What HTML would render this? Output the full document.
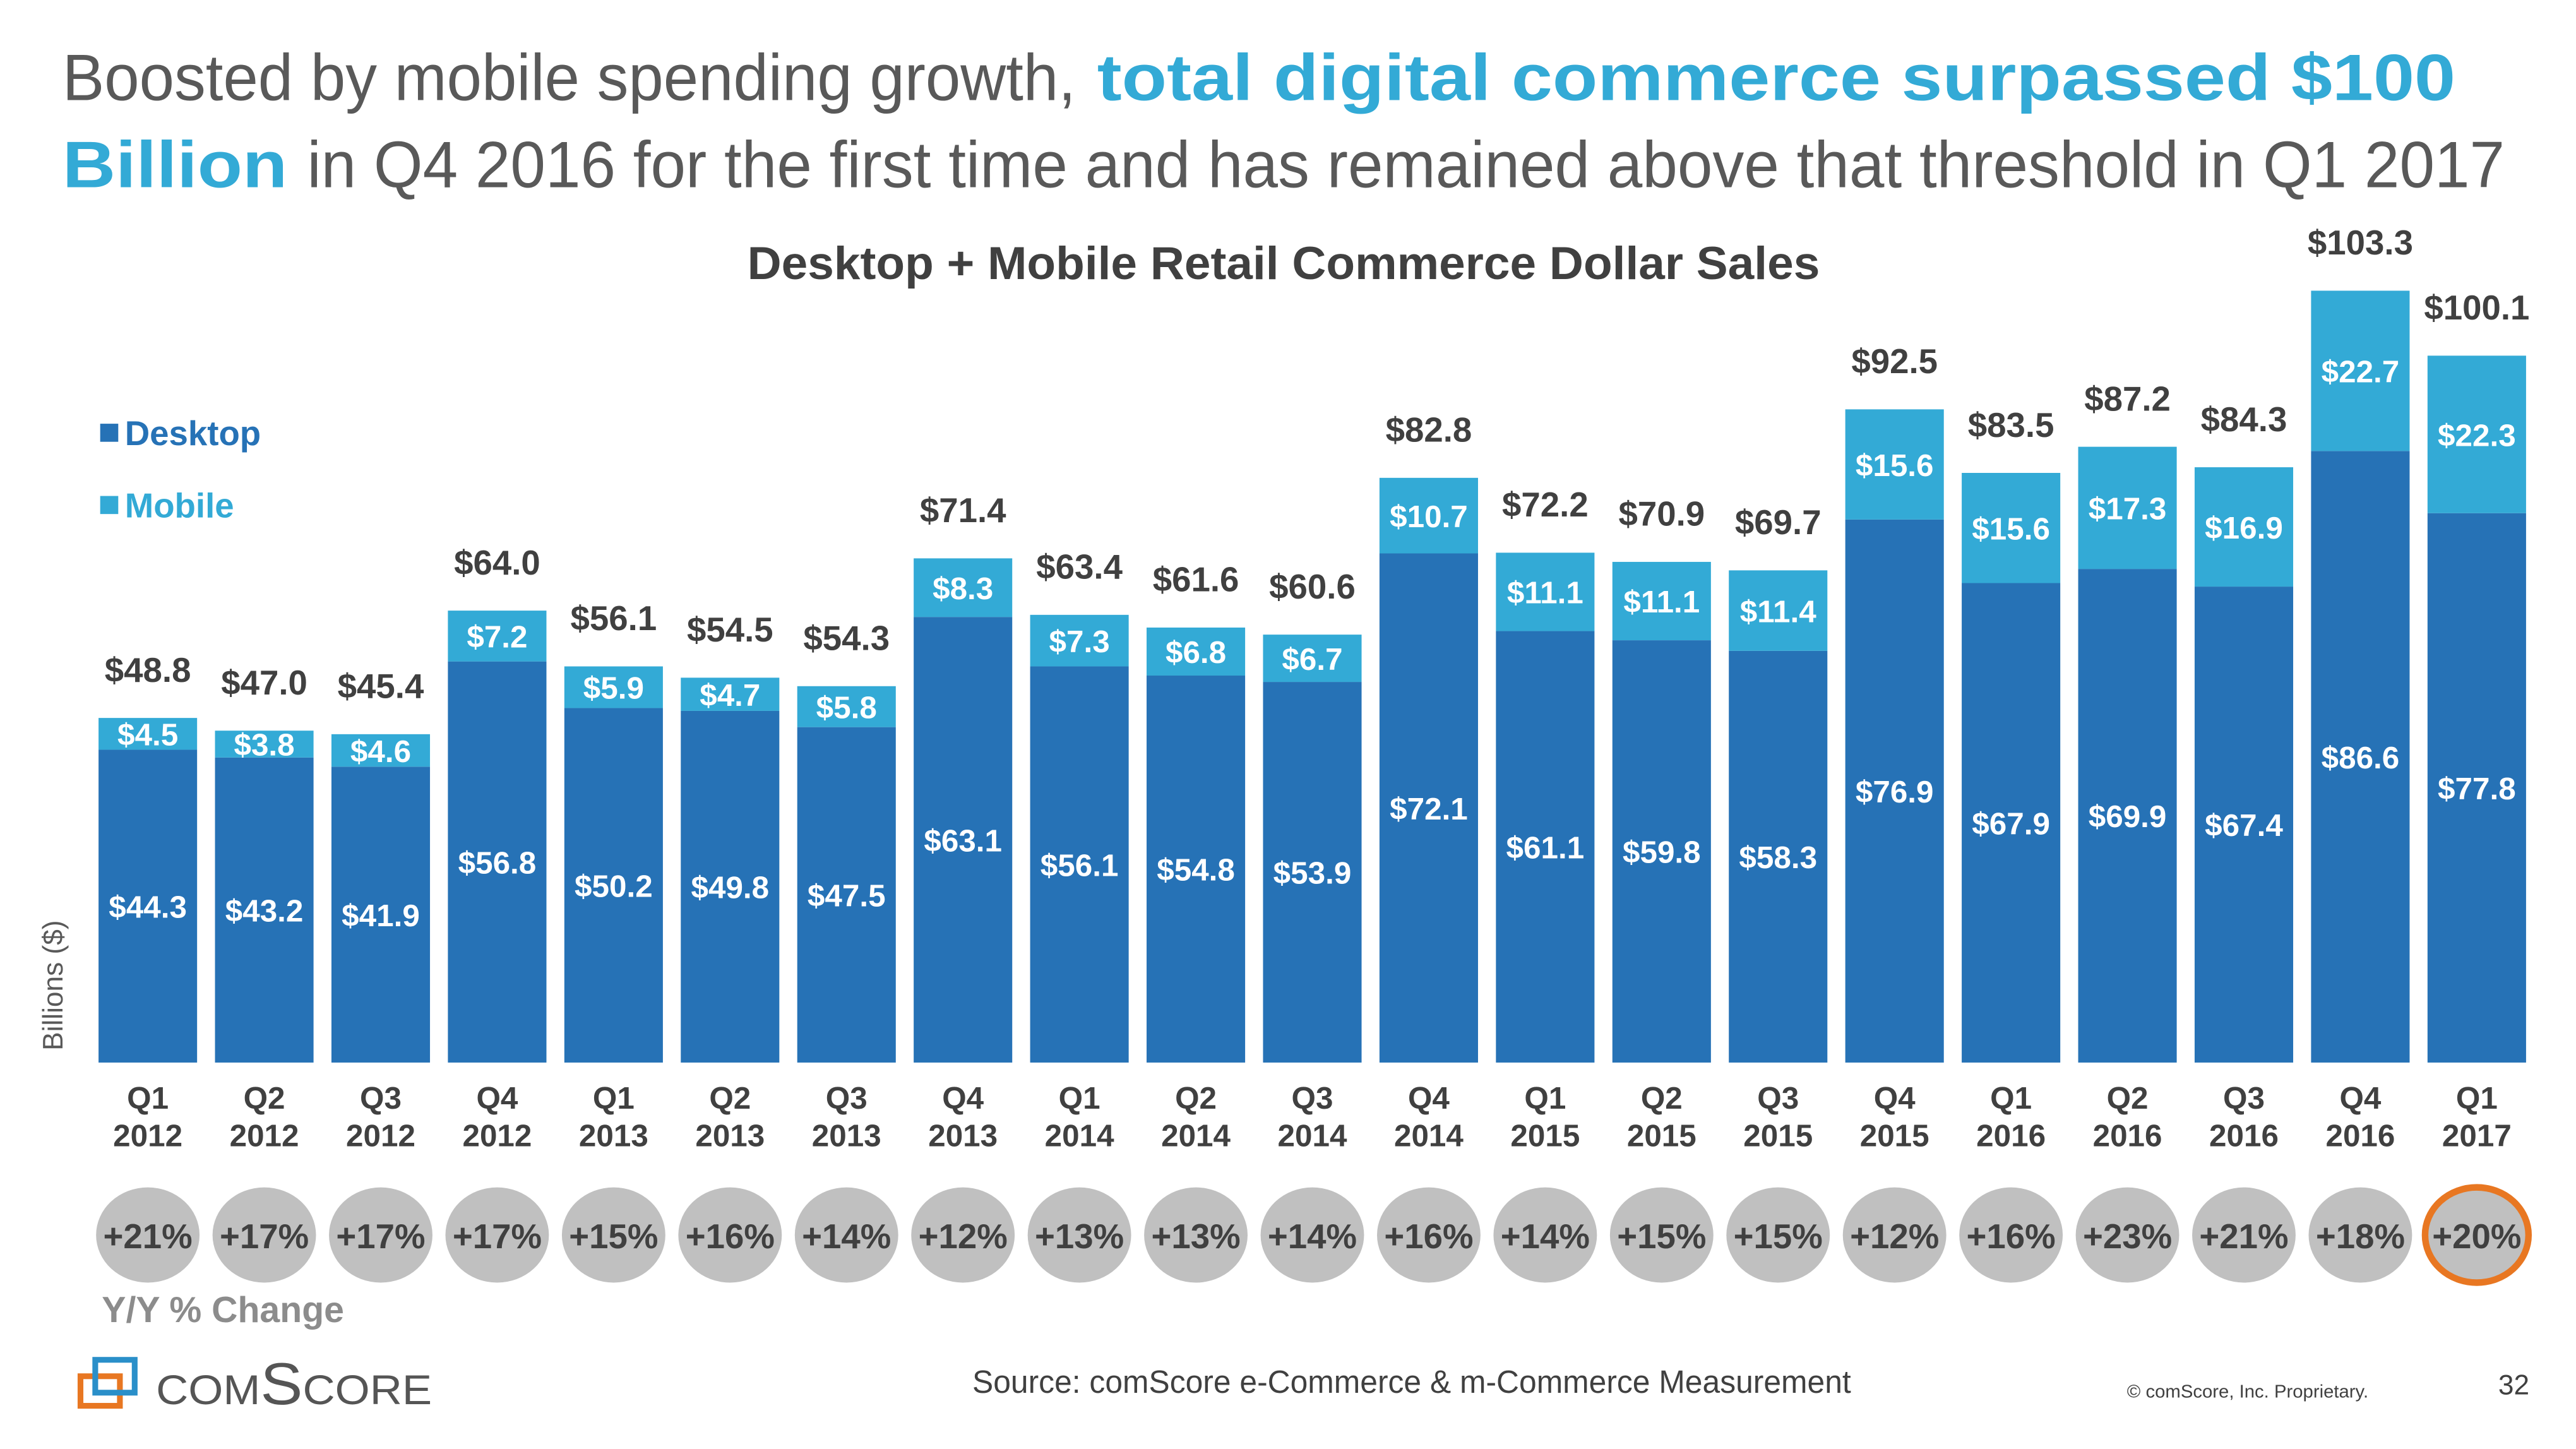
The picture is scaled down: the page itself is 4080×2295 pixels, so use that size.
<!DOCTYPE html>
<html><head><meta charset="utf-8"><style>
html,body{margin:0;padding:0;background:#fff;}
svg{display:block;font-family:"Liberation Sans",sans-serif;}
</style></head><body>
<svg id="chart" width="4080" height="2295" viewBox="0 0 1568.4 882.3" preserveAspectRatio="none" xmlns="http://www.w3.org/2000/svg">
<rect width="1570" height="883" fill="#fff"/>
<g>
<text x="38" y="61" font-size="40" fill="#595959" textLength="617" lengthAdjust="spacingAndGlyphs">Boosted by mobile spending growth,</text>
<text x="668" y="61" font-size="40" font-weight="bold" fill="#33aad6" textLength="827" lengthAdjust="spacingAndGlyphs">total digital commerce surpassed $100</text>
<text x="38" y="114" font-size="40" font-weight="bold" fill="#33aad6" textLength="137" lengthAdjust="spacingAndGlyphs">Billion</text>
<text x="187" y="114" font-size="40" fill="#595959" textLength="1338" lengthAdjust="spacingAndGlyphs">in Q4 2016 for the first time and has remained above that threshold in Q1 2017</text>
</g>
<text x="455" y="170" font-size="28" font-weight="bold" fill="#404040" textLength="653" lengthAdjust="spacingAndGlyphs">Desktop + Mobile Retail Commerce Dollar Sales</text>
<g>
<rect x="61" y="258" width="11" height="11" fill="#2672b6"/>
<text x="76" y="271" font-size="21" font-weight="bold" fill="#2672b6">Desktop</text>
<rect x="61" y="302" width="11" height="11" fill="#33aad6"/>
<text x="76" y="315" font-size="21" font-weight="bold" fill="#33aad6">Mobile</text>
</g>
<text transform="translate(38,600) rotate(-90)" text-anchor="middle" font-size="17" fill="#595959">Billions ($)</text>
<g id="bars"></g>
<text x="62" y="805" font-size="22" font-weight="bold" fill="#8c8c8c">Y/Y % Change</text>
<g>
<rect x="49" y="838" width="24" height="18" fill="none" stroke="#e87722" stroke-width="3.5"/>
<rect x="58" y="828" width="24" height="20" fill="none" stroke="#2a8fc9" stroke-width="3.5"/>
<text x="95" y="855" font-size="36" fill="#555" font-variant="small-caps" textLength="168" lengthAdjust="spacingAndGlyphs">comScore</text>
</g>
<text x="592" y="848" font-size="19.5" fill="#404040" textLength="535" lengthAdjust="spacingAndGlyphs">Source: comScore e-Commerce &amp; m-Commerce Measurement</text>
<text x="1295" y="851" font-size="11" fill="#404040" textLength="147" lengthAdjust="spacingAndGlyphs">© comScore, Inc. Proprietary.</text>
<text x="1540" y="849" text-anchor="end" font-size="17" fill="#404040">32</text>
</svg>
<script>
const categories = ["Q1 2012","Q2 2012","Q3 2012","Q4 2012","Q1 2013","Q2 2013","Q3 2013","Q4 2013","Q1 2014","Q2 2014","Q3 2014","Q4 2014","Q1 2015","Q2 2015","Q3 2015","Q4 2015","Q1 2016","Q2 2016","Q3 2016","Q4 2016","Q1 2017"];
const desktop = [44.3,43.2,41.9,56.8,50.2,49.8,47.5,63.1,56.1,54.8,53.9,72.1,61.1,59.8,58.3,76.9,67.9,69.9,67.4,86.6,77.8];
const mobile = [4.5,3.8,4.6,7.2,5.9,4.7,5.8,8.3,7.3,6.8,6.7,10.7,11.1,11.1,11.4,15.6,15.6,17.3,16.9,22.7,22.3];
const totals = ["48.8","47.0","45.4","64.0","56.1","54.5","54.3","71.4","63.4","61.6","60.6","82.8","72.2","70.9","69.7","92.5","83.5","87.2","84.3","103.3","100.1"];
const yoy = [21,17,17,17,15,16,14,12,13,13,14,16,14,15,15,12,16,23,21,18,20];

const NS = "http://www.w3.org/2000/svg";
const g = document.getElementById("bars");
const baseY = 647, pxPerUnit = 4.3, x0 = 60, pitch = 70.9, bw = 60;
function xPos(i){ return x0 + i*pitch; }
function yPos(v){ return baseY - v*pxPerUnit; }
function mk(tag, attrs, txt){
  const e = document.createElementNS(NS, tag);
  for (const k in attrs) e.setAttribute(k, attrs[k]);
  if (txt !== undefined) e.textContent = txt;
  g.appendChild(e); return e;
}
categories.forEach((c, i) => {
  const x = xPos(i), cx = x + bw/2;
  const yd = yPos(desktop[i]), ym = yPos(desktop[i] + mobile[i]);
  const d = mk("rect", {x:x, y:yd, width:bw, height:baseY-yd, fill:"#2672b6"});
  
  
  const m = mk("rect", {x:x, y:ym, width:bw, height:yd-ym, fill:"#33aad6"});
  
  
  const dl = mk("text", {x:cx, y:(yd+baseY)/2+7, "text-anchor":"middle", "font-size":19, "font-weight":"bold", fill:"#fff"}, "$"+desktop[i].toFixed(1));
  
  
  const ml = mk("text", {x:cx, y:(ym+yd)/2+7, "text-anchor":"middle", "font-size":19, "font-weight":"bold", fill:"#fff"}, "$"+mobile[i].toFixed(1));
  
  
  const tl = mk("text", {x:cx, y:ym-22, "text-anchor":"middle", "font-size":21, "font-weight":"bold", fill:"#404040"}, "$"+totals[i]);
  
  
  const parts = c.split(" ");
  const q = mk("text", {x:cx, y:675, "text-anchor":"middle", "font-size":19, "font-weight":"bold", fill:"#404040"}, parts[0]);
  
  
  const yr = mk("text", {x:cx, y:698, "text-anchor":"middle", "font-size":19, "font-weight":"bold", fill:"#404040"}, parts[1]);
  
  
  const last = i === categories.length - 1;
  const el = mk("ellipse", {cx:cx, cy:752, rx:31.5, ry:29, fill:"#c0c0c0", stroke: last ? "#e87722" : "none", "stroke-width": last ? 4 : 0});
  
  
  const yt = mk("text", {x:cx, y:760, "text-anchor":"middle", "font-size":21, "font-weight":"bold", fill:"#404040"}, "+"+yoy[i]+"%");
  
  
});
</script>
</body></html>
